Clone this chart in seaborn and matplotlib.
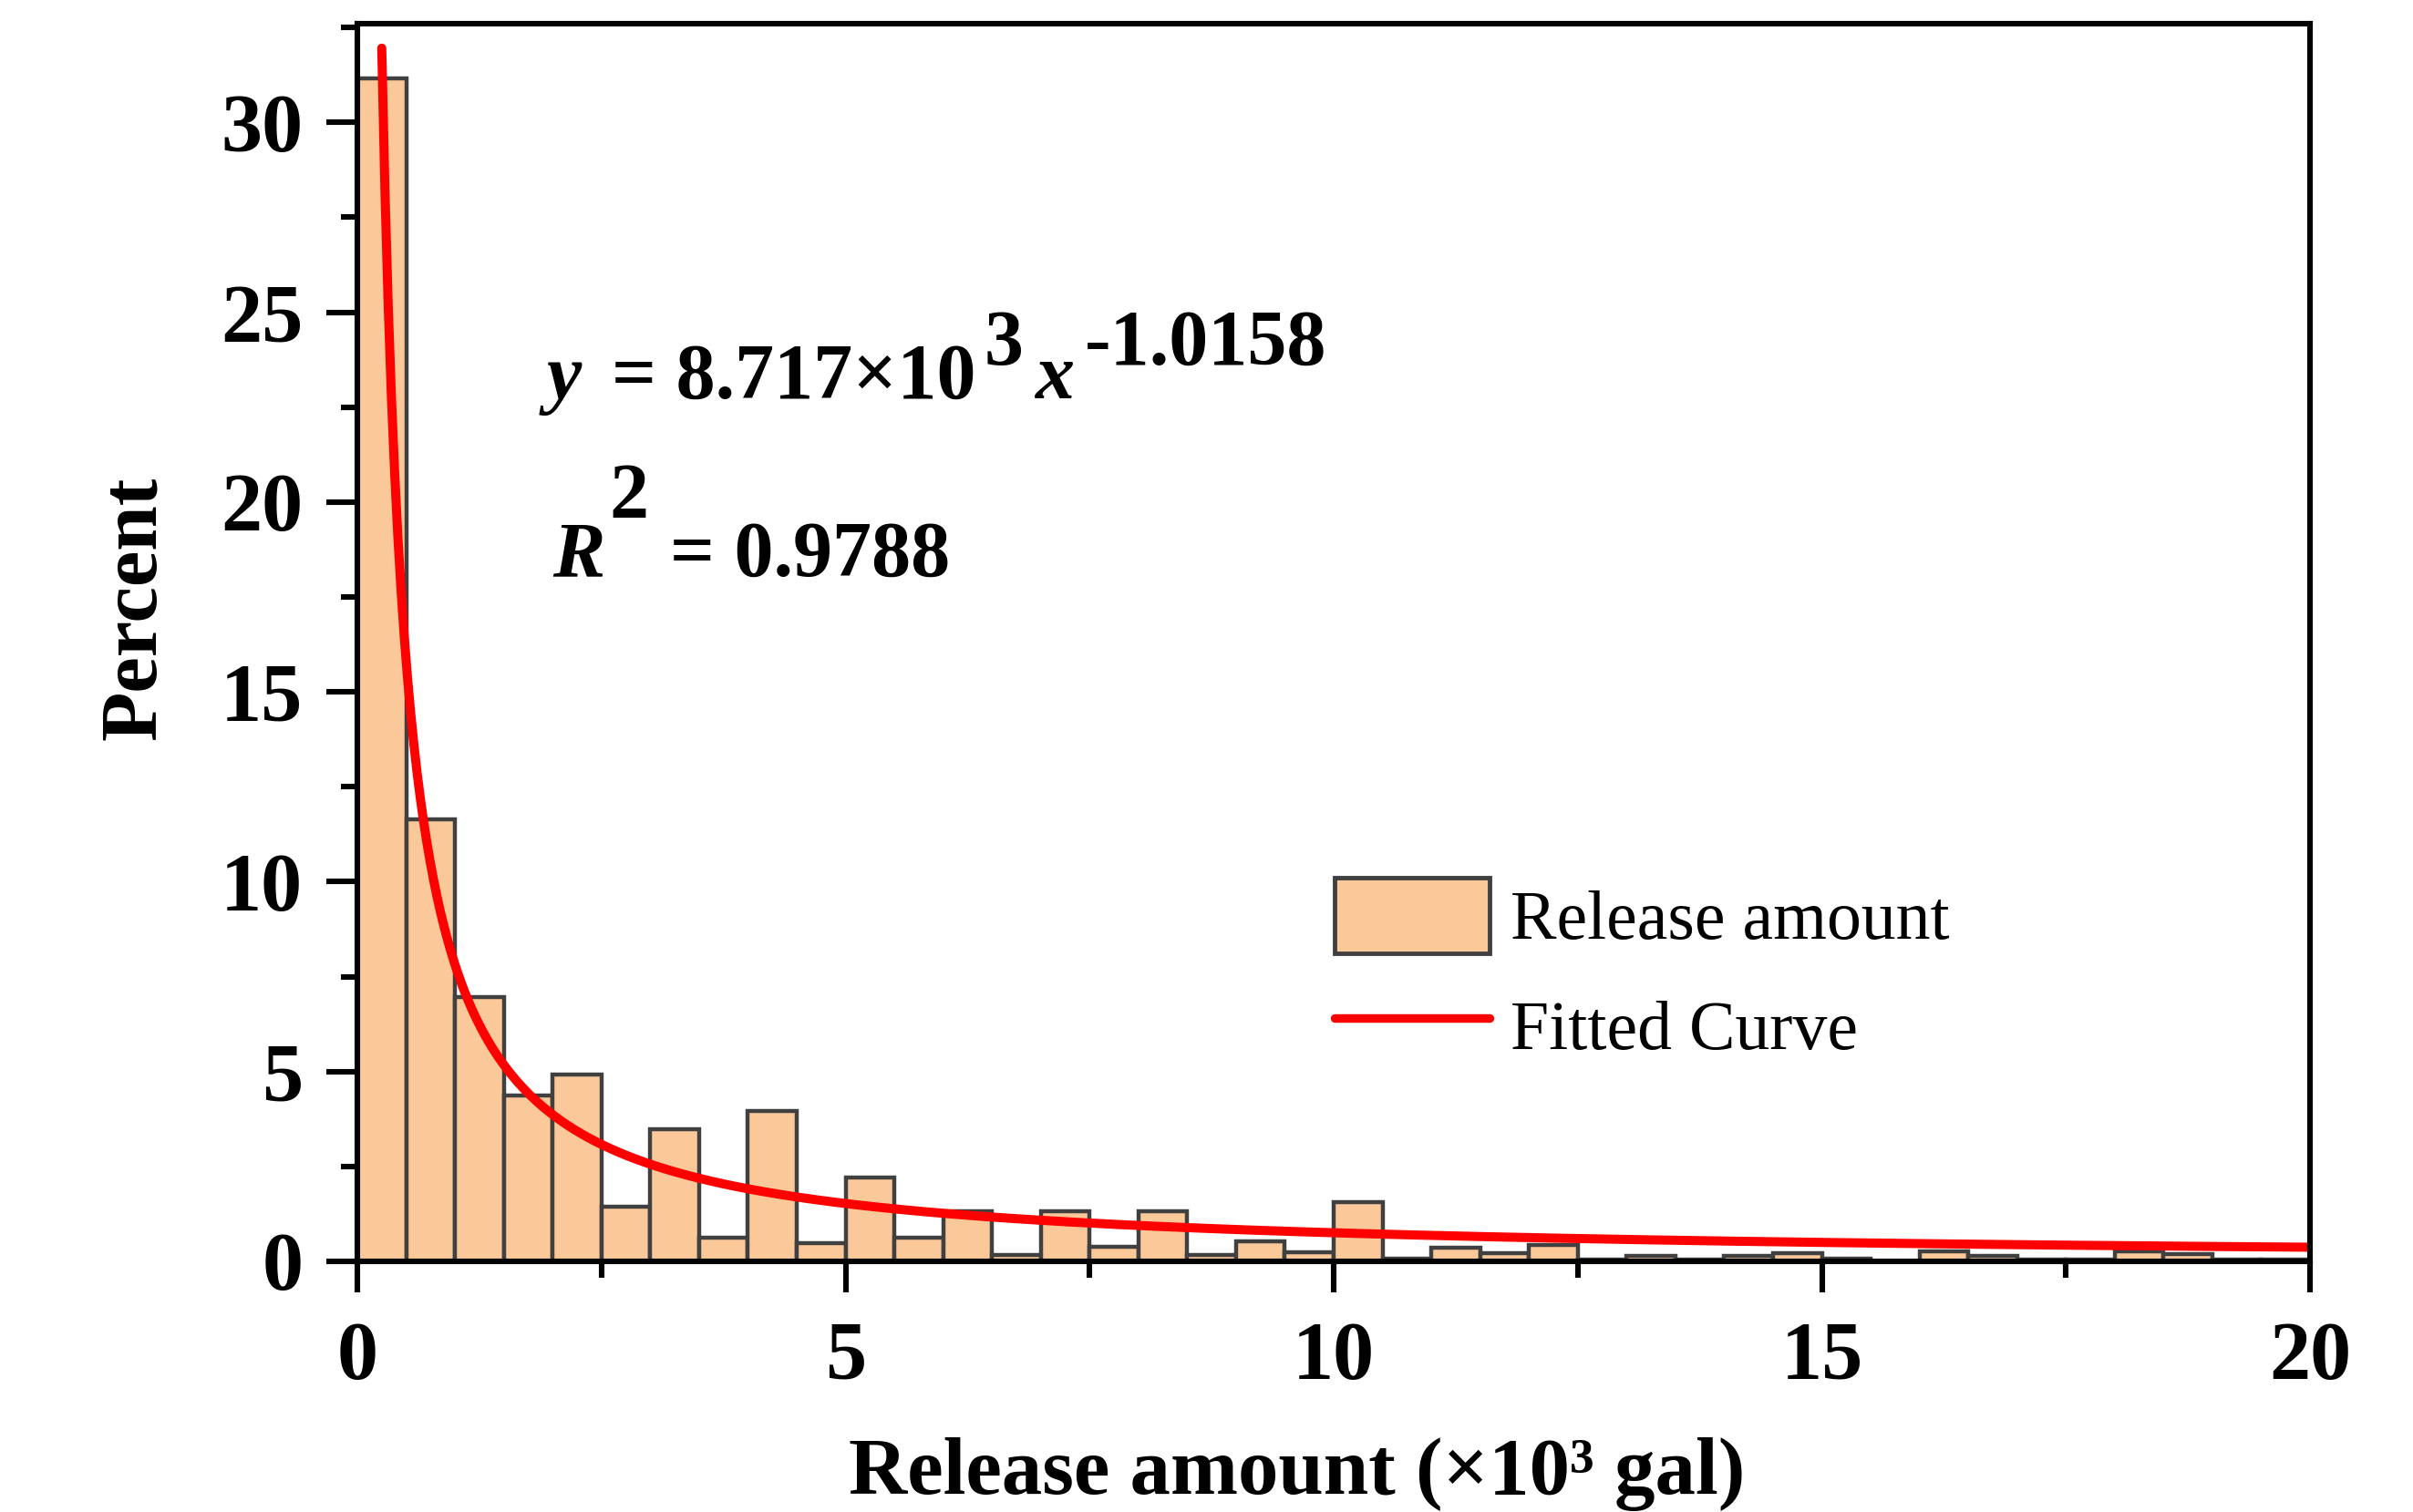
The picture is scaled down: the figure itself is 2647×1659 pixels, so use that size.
import numpy as np
import pandas as pd
import matplotlib
matplotlib.use('Agg')
import matplotlib.pyplot as plt
import matplotlib.patches as mpatches
from matplotlib.lines import Line2D
import seaborn as sns

# histograma da quantidade liberada, classes de 0.5 (x10^3 gal)
bin_width = 0.5
x_max = 20
percent = [31.15, 11.65, 6.95, 4.38, 4.92, 1.43, 3.48, 0.63, 3.96, 0.47,
           2.2, 0.63, 1.33, 0.16, 1.33, 0.39, 1.33, 0.16, 0.54, 0.24,
           1.57, 0.08, 0.36, 0.21, 0.43, 0.06, 0.14, 0.06, 0.14, 0.21,
           0.07, 0.0, 0.27, 0.14, 0.05, 0.05, 0.27, 0.2, 0.05, 0.05]

# parametros do ajuste potencia  y = a * x^b  (x em gal)
fit_a = 8.717e3
fit_b = -1.0158
fit_x_start = 0.25

W, H = 2647, 1659
sns.set_theme(style='ticks')
plt.rcParams['font.family'] = ['Liberation Serif', 'DejaVu Serif']
plt.rcParams['font.weight'] = 'bold'
for k in ['text.color', 'axes.labelcolor', 'xtick.color', 'ytick.color', 'axes.edgecolor']:
    plt.rcParams[k] = 'black'

fig = plt.figure(figsize=(W / 100, H / 100), dpi=100)
ax = fig.add_axes([392 / W, 1 - 1384 / H, (2534 - 392) / W, (1384 - 26) / H])

centers = np.arange(len(percent)) * bin_width + bin_width / 2
df = pd.DataFrame({'x': centers, 'pct': percent})
sns.histplot(data=df, x='x', weights='pct', binwidth=bin_width, binrange=(0, x_max),
             stat='count', color='#FBC999', alpha=1, edgecolor='#404040',
             linewidth=3.2, ax=ax)

xs = np.linspace(fit_x_start, x_max, 600)
ys = fit_a * (xs * 1000) ** fit_b
curve = pd.DataFrame({'x': xs, 'y': ys})
sns.lineplot(data=curve, x='x', y='y', color='#FF0000', linewidth=7.2, ax=ax)
for ln in ax.lines:
    ln.set_linewidth(7.2)

ax.set_xlim(0, 20)
ax.set_ylim(0, 32.6)
ax.set_xticks([0, 5, 10, 15, 20])
ax.set_xticks(np.arange(0, 20.1, 2.5), minor=True)
ax.set_yticks([0, 5, 10, 15, 20, 25, 30])
ax.set_yticks(np.arange(0, 32.6, 2.5), minor=True)
ax.tick_params(which='major', length=24.5, width=4.4, color='black')
ax.tick_params(which='minor', length=13, width=4.4, color='black')
ax.tick_params(axis='x', which='major', pad=23, labelsize=65)
ax.tick_params(axis='y', which='major', pad=18.5, labelsize=65)
for s in ax.spines.values():
    s.set_linewidth(4.4)
    s.set_color('black')

ax.set_xlabel('Release amount (×10³ gal)', fontsize=64, fontweight='bold')
ax.set_ylabel('Percent', fontsize=64, fontweight='bold')
ax.xaxis.set_label_coords(0.481, -0.142)
ax.yaxis.set_label_coords(-0.095, 0.528)

# equacao do ajuste (expoentes no mesmo tamanho, como no original)
def txt(x, y, s, italic=False):
    fig.text(x / W, 1 - y / H, s, fontsize=62, fontweight='bold',
             fontstyle='italic' if italic else 'normal', va='baseline', ha='left')

txt(600, 437, 'y', True)
txt(671, 437, '= 8.717×10')
txt(1080, 400, '3')
txt(1135, 437, 'x', True)
txt(1190, 400, '-1.0158')
txt(606, 632, 'R', True)
txt(668, 568, '2')
txt(735, 632, '= 0.9788')

handles = [mpatches.Patch(facecolor='#FBC999', edgecolor='#404040', linewidth=3.5),
           Line2D([0], [0], color='#FF0000', lw=6.8)]
leg = ax.legend(handles, ['Release amount', 'Fitted Curve'], loc='upper left',
                bbox_to_anchor=(1464 / W, 1 - 963 / H), bbox_transform=fig.transFigure,
                frameon=False, prop={'size': 54.5, 'weight': 'normal'},
                handlelength=2.25, handleheight=1.32, handletextpad=0.3,
                labelspacing=0.49, borderpad=0, borderaxespad=0)

fig.savefig('out.png', dpi=100)
